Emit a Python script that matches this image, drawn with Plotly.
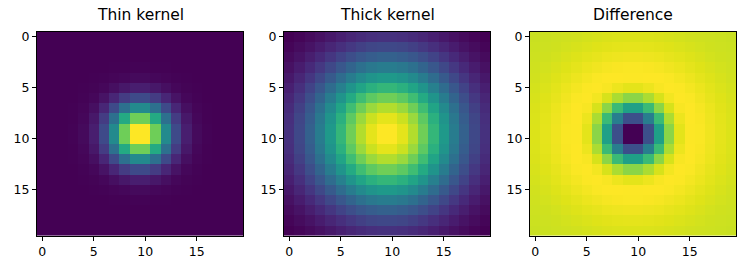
import plotly.graph_objects as go

# values (permille of each panel's colour range)
thin_kernel = [
    [0,0,0,0,0,0,0,0,0,0, 0,0,0,0,0,0,0,0,0,0],
    [0,0,0,0,0,0,0,0,0,0, 0,0,0,0,0,0,0,0,0,0],
    [0,0,0,0,0,0,0,0,1,1, 1,1,0,0,0,0,0,0,0,0],
    [0,0,0,0,0,0,1,2,4,5, 5,4,2,1,0,0,0,0,0,0],
    [0,0,0,0,1,2,5,11,18,24, 24,18,11,5,2,1,0,0,0,0],
    [0,0,0,0,2,7,18,39,64,82, 82,64,39,18,7,2,0,0,0,0],
    [0,0,0,1,5,18,50,105,174,223, 223,174,105,50,18,5,1,0,0,0],
    [0,0,0,2,11,39,105,223,368,472, 472,368,223,105,39,11,2,0,0,0],
    [0,0,1,4,18,64,174,368,607,779, 779,607,368,174,64,18,4,1,0,0],
    [0,0,1,5,24,82,223,472,779,1000, 1000,779,472,223,82,24,5,1,0,0],
    [0,0,1,5,24,82,223,472,779,1000, 1000,779,472,223,82,24,5,1,0,0],
    [0,0,1,4,18,64,174,368,607,779, 779,607,368,174,64,18,4,1,0,0],
    [0,0,0,2,11,39,105,223,368,472, 472,368,223,105,39,11,2,0,0,0],
    [0,0,0,1,5,18,50,105,174,223, 223,174,105,50,18,5,1,0,0,0],
    [0,0,0,0,2,7,18,39,64,82, 82,64,39,18,7,2,0,0,0,0],
    [0,0,0,0,1,2,5,11,18,24, 24,18,11,5,2,1,0,0,0,0],
    [0,0,0,0,0,0,1,2,4,5, 5,4,2,1,0,0,0,0,0,0],
    [0,0,0,0,0,0,0,0,1,1, 1,1,0,0,0,0,0,0,0,0],
    [0,0,0,0,0,0,0,0,0,0, 0,0,0,0,0,0,0,0,0,0],
    [0,0,0,0,0,0,0,0,0,0, 0,0,0,0,0,0,0,0,0,0],
]

thick_kernel = [
    [0,12,27,45,65,86,106,123,135,142, 142,135,123,106,86,65,45,27,12,0],
    [12,30,51,77,106,135,164,188,206,215, 215,206,188,164,135,106,77,51,30,12],
    [27,51,81,117,156,197,236,269,294,307, 307,294,269,236,197,156,117,81,51,27],
    [45,77,117,164,215,269,321,366,398,416, 416,398,366,321,269,215,164,117,77,45],
    [65,106,156,215,282,350,416,472,514,536, 536,514,472,416,350,282,215,156,106,65],
    [86,135,197,269,350,434,514,583,634,661, 661,634,583,514,434,350,269,197,135,86],
    [106,164,236,321,416,514,608,689,749,781, 781,749,689,608,514,416,321,236,164,106],
    [123,188,269,366,472,583,689,781,848,884, 884,848,781,689,583,472,366,269,188,123],
    [135,206,294,398,514,634,749,848,921,960, 960,921,848,749,634,514,398,294,206,135],
    [142,215,307,416,536,661,781,884,960,1000, 1000,960,884,781,661,536,416,307,215,142],
    [142,215,307,416,536,661,781,884,960,1000, 1000,960,884,781,661,536,416,307,215,142],
    [135,206,294,398,514,634,749,848,921,960, 960,921,848,749,634,514,398,294,206,135],
    [123,188,269,366,472,583,689,781,848,884, 884,848,781,689,583,472,366,269,188,123],
    [106,164,236,321,416,514,608,689,749,781, 781,749,689,608,514,416,321,236,164,106],
    [86,135,197,269,350,434,514,583,634,661, 661,634,583,514,434,350,269,197,135,86],
    [65,106,156,215,282,350,416,472,514,536, 536,514,472,416,350,282,215,156,106,65],
    [45,77,117,164,215,269,321,366,398,416, 416,398,366,321,269,215,164,117,77,45],
    [27,51,81,117,156,197,236,269,294,307, 307,294,269,236,197,156,117,81,51,27],
    [12,30,51,77,106,135,164,188,206,215, 215,206,188,164,135,106,77,51,30,12],
    [0,12,27,45,65,86,106,123,135,142, 142,135,123,106,86,65,45,27,12,0],
]

difference = [
    [917,920,923,926,930,934,938,942,944,946, 946,944,942,938,934,930,926,923,920,917],
    [920,923,927,933,938,944,950,955,958,960, 960,958,955,950,944,938,933,927,923,920],
    [923,927,933,941,948,957,964,971,975,978, 978,975,971,964,957,948,941,933,927,923],
    [926,933,941,950,960,971,980,988,993,995, 995,993,988,980,971,960,950,941,933,926],
    [930,938,948,960,973,985,995,1000,1000,999, 999,1000,1000,995,985,973,960,948,938,930],
    [934,944,957,971,985,997,1000,991,973,958, 958,973,991,1000,997,985,971,957,944,934],
    [938,950,964,980,995,1000,984,938,873,825, 825,873,938,984,1000,995,980,964,950,938],
    [942,955,971,988,1000,991,938,825,676,567, 567,676,825,938,991,1000,988,971,955,942],
    [944,958,975,993,1000,973,873,676,424,239, 239,424,676,873,973,1000,993,975,958,944],
    [946,960,978,995,999,958,825,567,239,0, 0,239,567,825,958,999,995,978,960,946],
    [946,960,978,995,999,958,825,567,239,0, 0,239,567,825,958,999,995,978,960,946],
    [944,958,975,993,1000,973,873,676,424,239, 239,424,676,873,973,1000,993,975,958,944],
    [942,955,971,988,1000,991,938,825,676,567, 567,676,825,938,991,1000,988,971,955,942],
    [938,950,964,980,995,1000,984,938,873,825, 825,873,938,984,1000,995,980,964,950,938],
    [934,944,957,971,985,997,1000,991,973,958, 958,973,991,1000,997,985,971,957,944,934],
    [930,938,948,960,973,985,995,1000,1000,999, 999,1000,1000,995,985,973,960,948,938,930],
    [926,933,941,950,960,971,980,988,993,995, 995,993,988,980,971,960,950,941,933,926],
    [923,927,933,941,948,957,964,971,975,978, 978,975,971,964,957,948,941,933,927,923],
    [920,923,927,933,938,944,950,955,958,960, 960,958,955,950,944,938,933,927,923,920],
    [917,920,923,926,930,934,938,942,944,946, 946,944,942,938,934,930,926,923,920,917],
]

titles = ["Thin kernel", "Thick kernel", "Difference"]
tick_values = [0, 5, 10, 15]

viridis = [
    "#440154", "#471365", "#482475", "#463480", "#414487", "#3b528b", "#355f8d",
    "#2f6c8e", "#2a788e", "#25848e", "#21918c", "#1e9c89", "#22a884", "#2fb47c",
    "#44bf70", "#5ec962", "#7ad151", "#9bd93c", "#bddf26", "#dfe318", "#fde725",
]
colorscale = [[i / (len(viridis) - 1), c] for i, c in enumerate(viridis)]

W, H = 744, 269
panel_left = [37, 284, 530]
panel_w = 206
top_px, bot_px = 30, 235.5

fig = go.Figure()
font = "DejaVu Sans, Liberation Sans, sans-serif"
for k, (z, title) in enumerate(zip([thin_kernel, thick_kernel, difference], titles)):
    sfx = "" if k == 0 else str(k + 1)
    fig.add_trace(go.Heatmap(
        z=z, colorscale=colorscale, showscale=False,
        xaxis="x" + sfx, yaxis="y" + sfx, hoverinfo="skip",
    ))
    x0 = panel_left[k] / W
    x1 = (panel_left[k] + panel_w) / W
    axis_common = dict(
        showgrid=False, zeroline=False, showline=True, mirror=True,
        linecolor="black", linewidth=1, ticks="outside", ticklen=4,
        tickwidth=1, tickcolor="black", tickvals=tick_values,
        tickfont=dict(family=font, size=12.5, color="black"),
    )
    fig.layout["xaxis" + sfx] = dict(
        domain=[x0, x1], range=[-0.5, 19.5], anchor="y" + sfx, **axis_common
    )
    fig.layout["yaxis" + sfx] = dict(
        domain=[1 - bot_px / H, 1 - top_px / H], range=[19.5, -0.5],
        anchor="x" + sfx, **axis_common
    )
    fig.add_annotation(
        text=title, x=(x0 + x1) / 2, y=1 - 24.5 / H, xref="paper", yref="paper",
        xanchor="center", yanchor="bottom", showarrow=False,
        font=dict(family=font, size=15.5, color="black"),
    )

fig.update_layout(
    width=W, height=H, margin=dict(l=0, r=0, t=0, b=0),
    paper_bgcolor="white", plot_bgcolor="white", showlegend=False,
)
fig.write_html("out.html")
